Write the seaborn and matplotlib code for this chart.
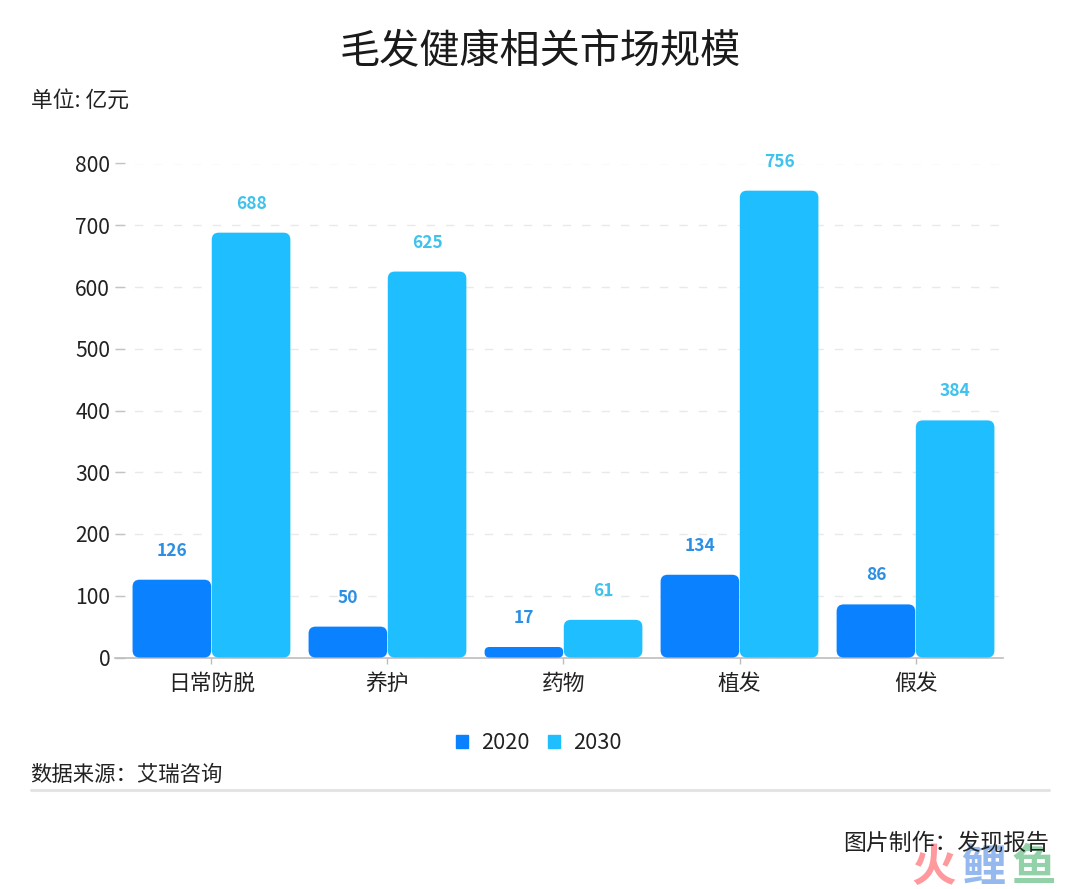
import matplotlib.pyplot as plt
import pandas as pd
import seaborn as sns
from matplotlib.lines import Line2D
from matplotlib.patches import FancyBboxPatch, Patch

categories = ['日常防脱', '养护', '药物', '植发', '假发']
values_2020 = [126, 50, 17, 134, 86]
values_2030 = [688, 625, 61, 756, 384]
yticks = [0, 100, 200, 300, 400, 500, 600, 700, 800]

dark_blue = '#0a82ff'
light_blue = '#1fbfff'
W, H = 1080, 889

sns.set_theme(style='white')
plt.rcParams['font.family'] = ['Noto Sans CJK SC', 'DejaVu Sans']

df = pd.DataFrame({
    'category': categories * 2,
    'year': ['2020'] * 5 + ['2030'] * 5,
    'value': values_2020 + values_2030,
})

fig = plt.figure(figsize=(W / 100, H / 100), dpi=100)
ax = fig.add_axes([115 / W, 1 - 657.5 / H, 888 / W, 494 / H])

sns.barplot(data=df, x='category', y='value', hue='year',
            palette=[dark_blue, light_blue], width=0.9, gap=0.0, legend=False, ax=ax)
ax.set_xlim(-0.548, 4.497)
ax.set_ylim(0, 800)
ax.set_xlabel('')
ax.set_ylabel('')

# swap the square bars for rounded ones, same geometry
px_x = 888 / (4.497 + 0.548)
px_y = 494 / 800
label_colors = {dark_blue: '#2b8fe3', light_blue: '#3fc2ee'}
for container, color in zip(ax.containers, [dark_blue, light_blue]):
    for bar in container:
        x, w, h = bar.get_x(), bar.get_width(), bar.get_height()
        bar.set_visible(False)
        pad = 0.3 / px_x
        rad_x = min(7 / px_x, h * px_y / 2.2 / px_x)
        rad_y = rad_x * px_x / px_y
        box = FancyBboxPatch((x + pad + rad_x, rad_y), w - 2 * pad - 2 * rad_x, h - 2 * rad_y,
                             boxstyle=f'round,pad={rad_x},rounding_size={rad_x}',
                             mutation_aspect=px_x / px_y, fc=color, ec='none',
                             zorder=3, clip_on=False)
        ax.add_patch(box)
        ax.annotate(f'{int(h)}', (x + w / 2, h), xytext=(0, 29), textcoords='offset pixels',
                    ha='center', va='center', fontsize=12.5, fontweight='bold',
                    color=label_colors[color])

# axes styling
ax.set_yticks(yticks)
ax.yaxis.grid(True, linestyle=(0, (6, 8)), color='#e9e9e9', linewidth=1)
ax.set_axisbelow(True)
for side in ['top', 'right', 'left']:
    ax.spines[side].set_visible(False)
ax.spines['bottom'].set_color('#bdbdbd')
ax.spines['bottom'].set_linewidth(1.2)
ax.tick_params(axis='y', left=True, direction='in', length=7, width=1, color='#c4c4c4',
               pad=3.5, labelsize=15.2, labelcolor='#222222')
ax.tick_params(axis='x', length=4, width=1, color='#bdbdbd', pad=7, labelsize=15.7,
               labelcolor='#222222', bottom=True)

# watermark sits under the footer text
wm_kw = dict(fontsize=32, fontweight='bold', ha='center', va='center', alpha=0.95, zorder=1)
fig.text(934 / W, 1 - 868 / H, '火', color='#ff9499', **wm_kw)
fig.text(983 / W, 1 - 868 / H, '鲤', color='#8fb4ee', **wm_kw)
fig.text(1034 / W, 1 - 868 / H, '鱼', color='#8dcfa4', **wm_kw)

fig.text(540 / W, 1 - 51 / H, '毛发健康相关市场规模', ha='center', va='center',
         fontsize=28.9, color='#1a1a1a')
fig.text(31 / W, 1 - 102 / H, '单位: 亿元', ha='left', va='center', fontsize=15.7, color='#222222')
fig.text(30 / W, 1 - 775 / H, '数据来源：艾瑞咨询', ha='left', va='center', fontsize=15.4, color='#222222')
fig.text(1049 / W, 1 - 844 / H, '图片制作：发现报告', ha='right', va='center', fontsize=16.5,
         color='#222222', zorder=5)

fig.add_artist(Line2D([31 / W, 1049 / W], [1 - 789.5 / H] * 2, color='#e4e4e4', linewidth=2.2))

handles = [Patch(color=dark_blue, label='2020'), Patch(color=light_blue, label='2030')]
fig.legend(handles=handles, ncol=2, loc='center', bbox_to_anchor=(538.5 / W, 1 - 743 / H),
           frameon=False, fontsize=15.7, handlelength=0.55, handleheight=0.55,
           handletextpad=0.6, columnspacing=0.85, labelcolor='#222222')

fig.savefig('out.png', dpi=100, facecolor='white')
